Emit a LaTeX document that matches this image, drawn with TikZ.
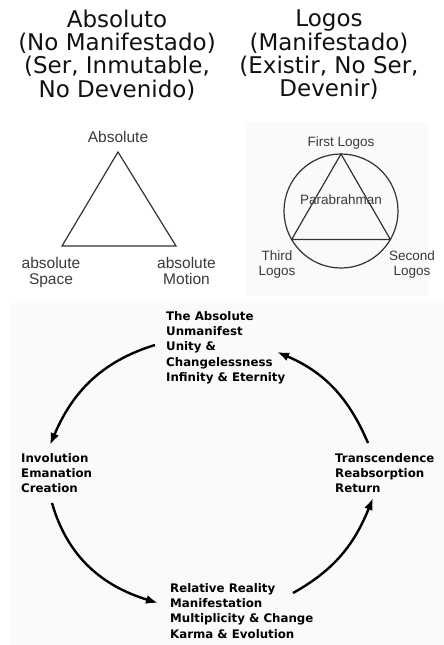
\documentclass[tikz,border=0pt]{standalone}
\usepackage{fontspec}
\setmainfont{DejaVu Sans}
\newfontfamily\arialfont{Liberation Sans}
\usetikzlibrary{arrows.meta,positioning,calc}
\definecolor{ctext}{HTML}{111111}
\definecolor{cline}{HTML}{333333}
\definecolor{clabel}{HTML}{3A3A3A}
\definecolor{cpanel}{HTML}{FAFAFA}

\begin{document}
\begin{tikzpicture}[
    x=1pt, y=1pt,
    title/.style={font=\fontsize{23}{23.3}\selectfont, align=center, anchor=north, inner sep=0pt, text=ctext},
    lbl/.style={font=\arialfont\fontsize{15.5}{16}\selectfont, align=center, inner sep=0pt, text=clabel},
    slbl/.style={font=\arialfont\fontsize{13.5}{15}\selectfont, align=center, inner sep=0pt, text=clabel},
    stage/.style={font=\bfseries\fontsize{11.8}{15.3}\selectfont, align=left, anchor=north west, inner sep=0pt},
    geom/.style={draw=cline, line width=1.2pt},
    cyc/.style={line width=2.4pt, -{Latex[length=12pt,width=9pt]}},
]
\useasboundingbox (0,0) rectangle (444,-645);

% --- faint panels behind the pictures ---
\fill[cpanel] (245,-122) rectangle (428,-296);
\fill[cpanel] (10,-303) rectangle (444,-645);

% --- titles ---
\node[title] (absoluto) at (117,-9.5) {Absoluto\\(No Manifestado)\\(Ser, Inmutable,\\No Devenido)};
\node[title] (logos) at (329,-10) {Logos\\(Manifestado)\\(Existir, No Ser,\\Devenir)};

% --- Absolute triangle (left) ---
\coordinate (la) at (118,-152);
\coordinate (lb) at (62,-246);
\coordinate (lc) at (176,-246);
\draw[geom] (la) -- (lb) -- (lc) -- cycle;
\node[lbl, anchor=base] (labs) at (118,-142.5) {Absolute};
\node[lbl, anchor=north] (lspace) at (51,-257) {absolute\\Space};
\node[lbl, anchor=north] (lmotion) at (186.5,-257) {absolute\\Motion};

% --- Logos circle (right) ---
\coordinate (rc) at (341,-211);
\draw[geom] (rc) circle (57);
\draw[geom] ($(rc)+(90:57)$) -- ($(rc)+(210:57)$) -- ($(rc)+(330:57)$) -- cycle;
\node[slbl, anchor=base] (rfirst) at (341,-146) {First Logos};
\node[slbl, anchor=base] (rpara) at (341,-204) {Parabrahman};
\node[slbl, anchor=north] (rthird) at (277,-251) {Third\\Logos};
\node[slbl, anchor=north] (rsecond) at (412,-251) {Second\\Logos};

% --- cycle (bottom) ---
\node[stage] (absnode) at (166,-311) {The Absolute\\Unmanifest\\Unity \&\\Changelessness\\Infinity \& Eternity};
\node[stage] (invnode) at (21,-453) {Involution\\Emanation\\Creation};
\node[stage] (trnnode) at (335,-453) {Transcendence\\Reabsorption\\Return};
\node[stage] (relnode) at (170,-583) {Relative Reality\\Manifestation\\Multiplicity \& Change\\Karma \& Evolution};

% arrow ends
\coordinate (a1s) at (155,-345);
\coordinate (a1e) at (50,-445);
\coordinate (a2s) at (52,-503);
\coordinate (a2e) at (158,-603);
\coordinate (a3s) at (293,-593);
\coordinate (a3e) at (373,-498);
\coordinate (a4s) at (368,-443);
\coordinate (a4e) at (277,-352);

\draw[cyc] (a1s) to[out=197, in=67] (a1e);
\draw[cyc] (a2s) to[out=286, in=163] (a2e);
\draw[cyc] (a3s) to[out=29, in=248] (a3e);
\draw[cyc] (a4s) to[out=113, in=337] (a4e);

\end{tikzpicture}
\end{document}
